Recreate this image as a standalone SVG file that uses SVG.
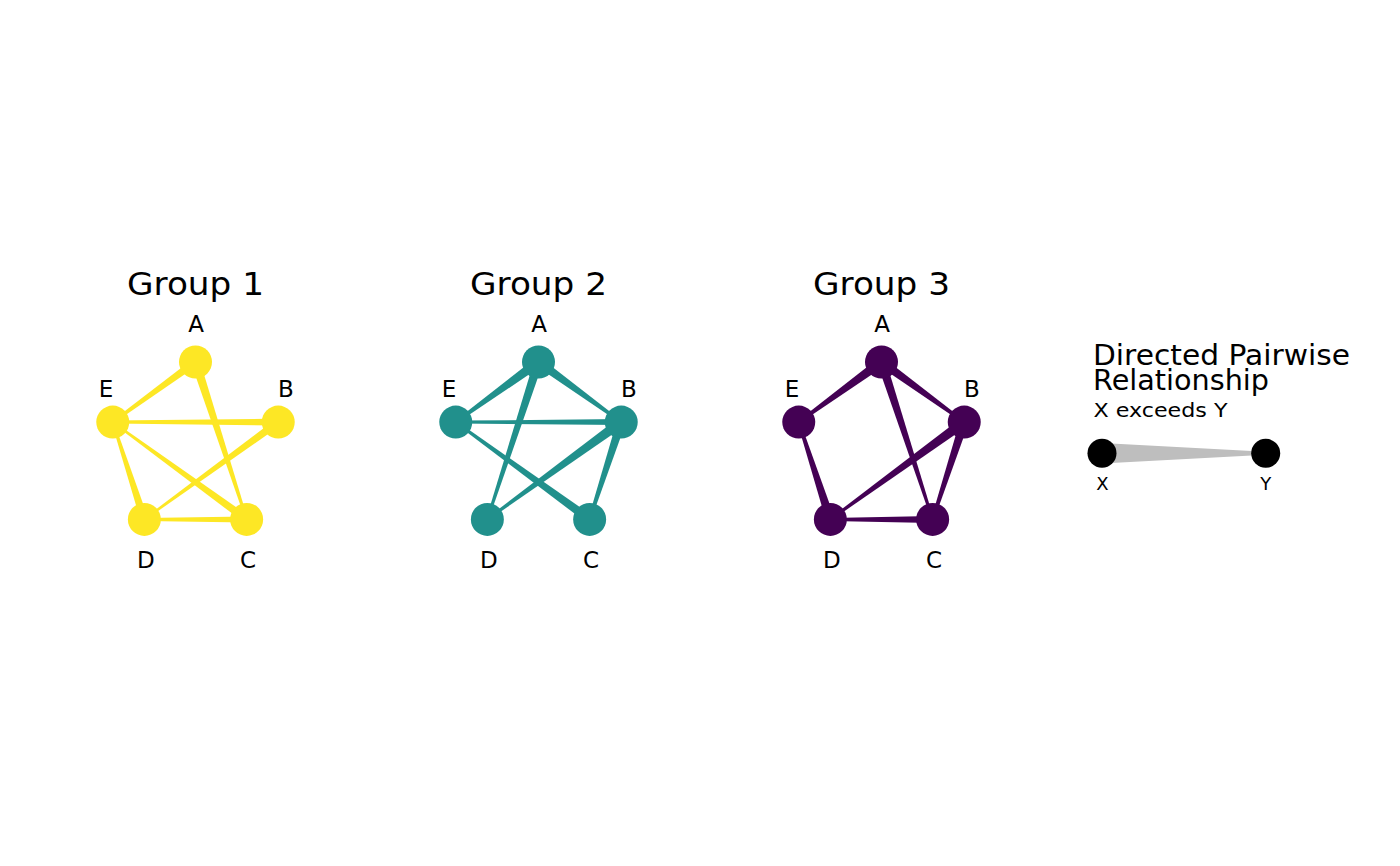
<svg xmlns="http://www.w3.org/2000/svg" width="1400" height="866" viewBox="0 0 1400 866">
<style>
text{font-family:"DejaVu Sans","Liberation Sans",sans-serif;fill:#000}
.title{font-size:31.5px;text-anchor:middle}
.lbl{font-size:23px;text-anchor:middle}
.lt{font-size:27.5px}
.ls{font-size:19.5px}
.lxy{font-size:18px;text-anchor:middle}
.p1{fill:#FDE725}
.p2{fill:#21908C}
.p3{fill:#440154}
</style>
<rect width="1400" height="866" fill="#fff"/>

<g id="panel1" transform="translate(0,0)">
<text class="title" x="195.5" y="295" textLength="137" lengthAdjust="spacingAndGlyphs">Group 1</text>
<g id="connectors1" class="p1">
<polygon points="193.15,358.76 111.88,420.91 113.64,423.33 197.85,365.24"/>
<polygon points="191.22,363.39 245.45,519.77 247.83,518.99 199.78,360.61"/>
<polygon points="278.24,418.62 112.76,420.62 112.76,423.62 278.24,425.62"/>
<polygon points="275.89,418.88 143.77,518.57 144.95,520.19 280.59,425.36"/>
<polygon points="248.99,516.14 113.35,421.31 112.17,422.93 244.29,522.62"/>
<polygon points="148.16,518.14 113.95,421.73 111.57,422.51 140.56,520.62"/>
<polygon points="246.64,516.38 144.36,517.88 144.36,520.88 246.64,522.38"/>
</g>
<g id="g1-A" class="p1"><circle cx="195.5" cy="362" r="16.5"/><text class="lbl" x="196" y="331.5">A</text></g>
<g id="g1-B" class="p1"><circle cx="278.24" cy="422.12" r="16.5"/><text class="lbl" x="286" y="396.5">B</text></g>
<g id="g1-C" class="p1"><circle cx="246.64" cy="519.38" r="16.5"/><text class="lbl" x="248" y="568">C</text></g>
<g id="g1-D" class="p1"><circle cx="144.36" cy="519.38" r="16.5"/><text class="lbl" x="145.8" y="568">D</text></g>
<g id="g1-E" class="p1"><circle cx="112.76" cy="422.12" r="16.5"/><text class="lbl" x="106" y="396.5">E</text></g>
</g>

<g id="panel2" transform="translate(343,0)">
<text class="title" x="195.5" y="295" textLength="137" lengthAdjust="spacingAndGlyphs">Group 2</text>
<g id="connectors2" class="p2">
<polygon points="192.56,357.96 111.88,420.91 113.64,423.33 198.44,366.05"/>
<polygon points="192.85,365.64 277.51,423.13 278.98,421.11 198.15,358.36"/>
<polygon points="191.22,360.61 143.17,518.99 145.55,519.77 199.78,363.39"/>
<polygon points="278.24,419.12 112.76,420.62 112.76,423.62 278.24,425.12"/>
<polygon points="249.29,515.74 113.50,421.11 112.03,423.13 243.99,523.02"/>
<polygon points="275.30,418.08 143.63,518.37 145.10,520.39 281.18,426.17"/>
<polygon points="273.96,420.73 245.21,518.92 248.07,519.84 282.52,423.51"/>
</g>
<g id="g2-A" class="p2"><circle cx="195.5" cy="362" r="16.5"/><text class="lbl" x="196" y="331.5">A</text></g>
<g id="g2-B" class="p2"><circle cx="278.24" cy="422.12" r="16.5"/><text class="lbl" x="286" y="396.5">B</text></g>
<g id="g2-C" class="p2"><circle cx="246.64" cy="519.38" r="16.5"/><text class="lbl" x="248" y="568">C</text></g>
<g id="g2-D" class="p2"><circle cx="144.36" cy="519.38" r="16.5"/><text class="lbl" x="145.8" y="568">D</text></g>
<g id="g2-E" class="p2"><circle cx="112.76" cy="422.12" r="16.5"/><text class="lbl" x="106" y="396.5">E</text></g>
</g>

<g id="panel3" transform="translate(686,0)">
<text class="title" x="195.5" y="295" textLength="137" lengthAdjust="spacingAndGlyphs">Group 3</text>
<g id="connectors3" class="p3">
<polygon points="192.56,357.96 111.88,420.91 113.64,423.33 198.44,366.05"/>
<polygon points="192.85,365.64 277.36,423.33 279.12,420.91 198.15,358.36"/>
<polygon points="191.22,363.39 245.45,519.77 247.83,518.99 199.78,360.61"/>
<polygon points="148.64,517.99 114.19,421.66 111.33,422.58 140.08,520.77"/>
<polygon points="275.30,418.08 143.63,518.37 145.10,520.39 281.18,426.17"/>
<polygon points="273.96,420.73 245.21,518.92 248.07,519.84 282.52,423.51"/>
<polygon points="246.64,515.88 144.36,517.88 144.36,520.88 246.64,522.88"/>
</g>
<g id="g3-A" class="p3"><circle cx="195.5" cy="362" r="16.5"/><text class="lbl" x="196" y="331.5">A</text></g>
<g id="g3-B" class="p3"><circle cx="278.24" cy="422.12" r="16.5"/><text class="lbl" x="286" y="396.5">B</text></g>
<g id="g3-C" class="p3"><circle cx="246.64" cy="519.38" r="16.5"/><text class="lbl" x="248" y="568">C</text></g>
<g id="g3-D" class="p3"><circle cx="144.36" cy="519.38" r="16.5"/><text class="lbl" x="145.8" y="568">D</text></g>
<g id="g3-E" class="p3"><circle cx="112.76" cy="422.12" r="16.5"/><text class="lbl" x="106" y="396.5">E</text></g>
</g>

<g id="legend">
<text class="lt" x="1093" y="365" textLength="257" lengthAdjust="spacingAndGlyphs">Directed Pairwise</text>
<text class="lt" x="1093" y="390" textLength="176" lengthAdjust="spacingAndGlyphs">Relationship</text>
<text class="ls" x="1093.5" y="417.3" textLength="134" lengthAdjust="spacingAndGlyphs">X exceeds Y</text>
<g id="legend-connector"><polygon points="1102,443.05 1265.7,451.8 1265.7,454.8 1102,463.55" fill="#BEBEBE"/></g>
<g id="legend-X"><circle cx="1102" cy="453.3" r="14.5" fill="#000"/><text class="lxy" x="1102.5" y="490">X</text></g>
<g id="legend-Y"><circle cx="1265.7" cy="453.3" r="14.5" fill="#000"/><text class="lxy" x="1265.8" y="490">Y</text></g>
</g>
</svg>
